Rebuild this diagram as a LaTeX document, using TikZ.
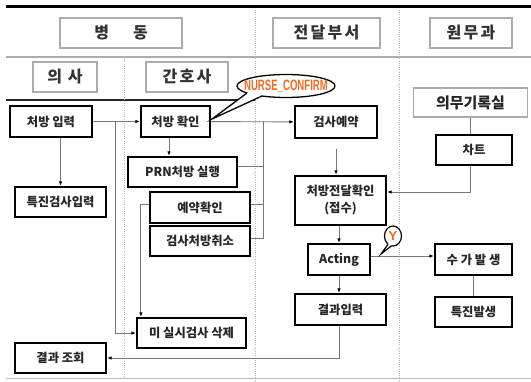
\documentclass[tikz,border=0pt]{standalone}
\usepackage{fontspec}
\setmainfont{Noto Sans CJK KR}
\newfontfamily\krhead[LetterSpace=14]{Noto Sans CJK KR}
\newfontfamily\latinb{Liberation Sans}
\usetikzlibrary{arrows.meta,shapes.geometric}
\definecolor{orng}{RGB}{236,108,36}
\definecolor{lgray}{RGB}{120,120,120}
\begin{document}
\begin{tikzpicture}[x=1pt,y=-1pt,
  box/.style={draw=black,line width=2.2pt,fill=white,inner sep=0pt,align=center,
    text=black!85,font=\bfseries\fontsize{12.3}{17}\selectfont},
  thinbox/.style={draw=gray!65,line width=1.3pt,fill=white,inner sep=0pt,align=center,
    text=black!85,font=\bfseries\fontsize{15}{17}\selectfont},
  head/.style={draw=gray!65,line width=1.4pt,fill=white,inner sep=0pt,
    text=black!80,font=\krhead\bfseries\fontsize{16}{18}\selectfont},
  conn/.style={draw=lgray,line width=0.9pt},
  arr/.style={conn,-{Latex[length=4.5pt,width=3.5pt,color=black]}},
  divider/.style={draw=gray!55,line width=0.8pt,dash pattern=on 1pt off 1.2pt},
  balloon/.style={ellipse,draw=black,line width=1.3pt,fill=white,inner sep=0pt},
  btext/.style={text=orng,inner sep=0pt,font=\latinb\bfseries\fontsize{15}{16}\selectfont}
]
\useasboundingbox (0,0) rectangle (531,382);

% frame lines
\draw[line width=3pt] (6,7) -- (531,7);
\draw[gray!65,line width=1.5pt] (6,57) -- (531,57);
\draw[black!85,line width=2pt] (6,100) -- (255,100);
\draw[gray!55,line width=1pt] (6,379) -- (531,379);
\draw[divider] (124,57) -- (124,380);
\draw[divider] (255,10) -- (255,380);
\draw[divider] (399,10) -- (399,380);

% headers
\node[head,minimum width=122pt,minimum height=30pt] (h1) at (121,33) {병\hspace{1.5em}동};
\node[head,minimum width=107pt,minimum height=30pt] (h2) at (326.5,33) {전달부서};
\node[head,minimum width=82pt,minimum height=30pt] (h3) at (471,33) {원무과};
\node[head,minimum width=64pt,minimum height=30pt] (h4) at (65,77) {의 사};
\node[head,minimum width=82pt,minimum height=30pt] (h5) at (187,77) {간호사};

% process boxes
\node[box,minimum width=82pt,minimum height=31pt] (n1) at (51,121.5) {처방 입력};
\node[box,minimum width=69pt,minimum height=31pt] (n2) at (175.5,121.5) {처방 확인};
\node[box,minimum width=82pt,minimum height=32pt] (n3) at (336,122) {검사예약};
\node[box,minimum width=109pt,minimum height=30pt] (n4) at (182.5,172) {PRN처방 실행};
\node[box,minimum width=91pt,minimum height=30pt] (n5) at (60.5,202) {특진검사입력};
\node[box,minimum width=100pt,minimum height=31pt] (n6) at (200,207.5) {예약확인};
\node[box,minimum width=100pt,minimum height=30pt] (n7) at (200,241) {검사처방취소};
\node[box,minimum width=91pt,minimum height=49pt] (n8) at (340.5,200.5) {처방전달확인\\(접수)};
\node[box,minimum width=62pt,minimum height=31pt] (n9) at (339,259.5) {Acting};
\node[box,minimum width=91pt,minimum height=31pt] (n10) at (340.5,309.5) {결과입력};
\node[box,minimum width=109pt,minimum height=30pt] (n11) at (191.5,333) {미 실시검사 삭제};
\node[box,minimum width=91pt,minimum height=30pt] (n12) at (60.5,358) {결과 조회};
\node[thinbox,minimum width=114pt,minimum height=29pt] (n13) at (470.5,102.5) {의무기록실};
\node[box,minimum width=76pt,minimum height=30pt] (n14) at (474,150) {차트};
\node[box,minimum width=77pt,minimum height=31pt] (n15) at (473.5,259.5) {수 가 발 생};
\node[box,minimum width=77pt,minimum height=30pt] (n16) at (473.5,312) {특진발생};

% connectors
\draw[arr] (n1) -- (n2);
\coordinate (b1) at (115,121.5);
\draw[arr] (b1) |- (n11.west);
\draw[arr] (n1.south -| n5.north) -- (n5.north);
\draw[arr] ([xshift=-6.5pt]n2.south) -- ([xshift=-6.5pt]n2.south |- n4.north);
\draw[arr] (n2) -- (n3);
\coordinate (b2) at (263,121.5);
\draw[conn] ([yshift=6pt]n4.east) -| (b2);
\draw[conn] ([yshift=3pt]n6.east) -| (b2);
\draw[conn] ([yshift=3pt]n7.east) -| (b2);
\draw[arr] ([yshift=3pt]n6.west) -| ([xshift=-8pt]n6.west |- n11.north);
\draw[arr,shorten <=10pt] (n3.south) -- (n3.south |- n8.north);
\draw[conn] (n13.south) -- (n13.south |- n14.north);
\draw[arr] (n13.south |- n14.south) |- ([yshift=8.5pt]n8.east);
\draw[arr] (n8.south -| n9.north) -- (n9.north);
\draw[arr] ([yshift=3.5pt]n9.east) -- ([yshift=3.5pt]n9.east -| n15.west);
\draw[arr] (n9.south) -- (n9.south |- n10.north);
\draw[conn] (n16.north) -- (n16.north |- n15.south);
\draw[arr] (n10.south -| n9.south) |- (n12.east);

% NURSE_CONFIRM balloon
\node[balloon,minimum width=98pt,minimum height=23pt] (nc) at (286,86) {};
\fill[white] (247,93) -- (212,119) -- (262,96) -- (258,91) -- (250,91) -- cycle;
\draw[line width=1.3pt,line join=miter] (247,93) -- (212,119) -- (262,96);
\node[btext] (nct) at (nc) {\scalebox{0.64}[1]{NURSE\_CONFIRM}};

% Y balloon
\node[balloon,line width=1.2pt,minimum width=17pt,minimum height=20pt] (yb) at (393,236) {};
\fill[white] (388.1,244.2) -- (381,254) -- (391.5,245.8) -- (391,242) -- (389,242) -- cycle;
\draw[line width=1.2pt,line join=miter] (388.1,244.2) -- (381,254) -- (391.5,245.8);
\node[btext,font=\latinb\bfseries\fontsize{13}{14}\selectfont] (ybt) at (yb) {Y};
\end{tikzpicture}
\end{document}
